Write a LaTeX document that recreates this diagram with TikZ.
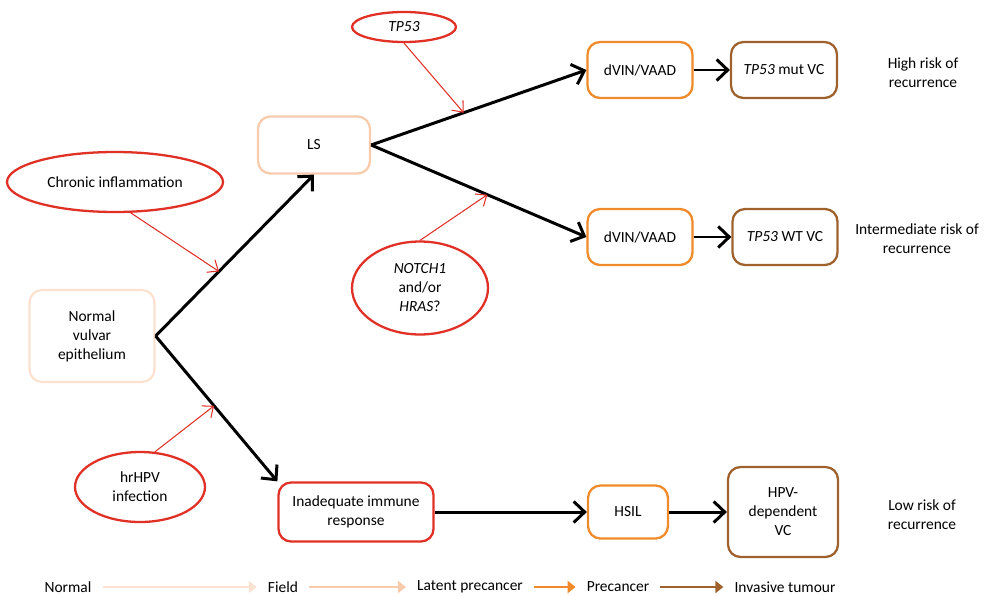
\documentclass[tikz,border=0pt]{standalone}
\usepackage{fontspec}
\setmainfont{Carlito}
\usetikzlibrary{arrows.meta,shapes.geometric}
\definecolor{normalc}{HTML}{FBE2D0}
\definecolor{fieldc}{HTML}{F8CBAD}
\definecolor{precc}{HTML}{F08A2A}
\definecolor{tumc}{HTML}{A0622D}
\definecolor{redc}{HTML}{E03127}

\begin{document}
\begin{tikzpicture}[x=0.02cm, y=-0.02cm, font=\fontsize{8.8}{10.8}\selectfont,
  box/.style = {draw, rounded corners=2.5mm, line width=1.3pt, align=center, inner sep=2pt},
  oval/.style = {draw=redc, ellipse, line width=1.3pt, align=center, inner sep=0pt},
  main/.style = {line width=1.7pt, -{Straight Barb[length=2.2mm,width=4.2mm]}},
  hit/.style = {draw=redc, line width=0.6pt, -{Straight Barb[length=1.8mm,width=3mm]}},
  leg/.style = {line width=1.6pt, -{Triangle[length=1.6mm,width=2.4mm]}, shorten <=1mm, shorten >=1mm}]
        \useasboundingbox (0,0) rectangle (986,595);
        \node[box, draw=normalc, minimum width=2.5cm, minimum height=1.84cm] (nve) at (92,336) {Normal\\vulvar\\epithelium};
        \node[box, draw=fieldc, minimum width=2.24cm, minimum height=1.14cm] (ls) at (314,145) {LS};
        \node[oval, minimum width=4.32cm, minimum height=1.2cm] (ci) at (115,182) {Chronic inflammation};
        \node[oval, minimum width=2.08cm, minimum height=0.6cm] (tp) at (404,27) {\textit{TP53}};
        \node[oval, minimum width=2.72cm, minimum height=1.86cm] (notch) at (420,288) {\textit{NOTCH1}\\and/or\\\textit{HRAS}?};
        \node[oval, minimum width=2.6cm, minimum height=1.4cm] (hpv) at (140,487) {hrHPV\\infection};
        \node[box, draw=precc, minimum width=2.1cm, minimum height=1.12cm] (dv1) at (640,70) {dVIN/VAAD};
        \node[box, draw=tumc, minimum width=2.12cm, minimum height=1.12cm] (mut) at (784,70) {\textit{TP53} mut VC};
        \node[box, draw=precc, minimum width=2.1cm, minimum height=1.12cm] (dv2) at (640,237) {dVIN/VAAD};
        \node[box, draw=tumc, minimum width=2.1cm, minimum height=1.12cm] (wt) at (785,237) {\textit{TP53} WT VC};
        \node[box, draw=redc, minimum width=3.1cm, minimum height=1.18cm] (iir) at (356,512) {Inadequate immune\\response};
        \node[box, draw=precc, minimum width=1.6cm, minimum height=1.06cm] (hsil) at (628,512) {HSIL};
        \node[box, draw=tumc, minimum width=2.2cm, minimum height=1.8cm] (hdvc) at (783,512) {HPV-\\dependent\\VC};
        \node[align=center] (hr) at (923,73) {High risk of\\recurrence};
        \node[align=center] (ir) at (917,239) {Intermediate risk of\\recurrence};
        \node[align=center] (lr) at (922,515) {Low risk of\\recurrence};

        \draw[main] (nve.east) -- (ls.south) coordinate[pos=0.4] (c1);
        \draw[main] (nve.east) -- (iir.north west) coordinate[pos=0.48] (c2);
        \draw[main] (ls.east) -- (dv1.west) coordinate[pos=0.43] (c3);
        \draw[main] (ls.east) -- (dv2.west) coordinate[pos=0.54] (c4);
        \draw[main] (dv1) -- (mut);
        \draw[main] (dv2) -- (wt);
        \draw[main] (iir) -- (hsil);
        \draw[main] (hsil) -- (hdvc);
        \draw[hit] (ci.297) -- (c1);
        \draw[hit] (hpv.67) -- (c2);
        \draw[hit] (tp.south) -- (c3);
        \draw[hit] (notch.north) -- (c4);

        \node (lnorm) at (68,587) {Normal};
        \node (lfield) at (283,587) {Field};
        \node (llat) at (470,587) {Latent precancer};
        \node (lpre) at (618,587) {Precancer};
        \node (linv) at (785,587) {Invasive tumour};
        \draw[leg, normalc] (lnorm) -- (lfield);
        \draw[leg, fieldc] (lfield) -- (llat);
        \draw[leg, precc] (llat) -- (lpre);
        \draw[leg, tumc] (lpre) -- (linv);
\end{tikzpicture}
\end{document}
